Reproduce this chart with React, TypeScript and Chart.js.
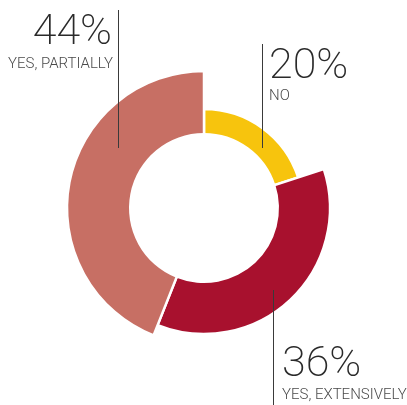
import React, { useEffect, useRef } from "react";
import { Chart, registerables } from "chart.js";

Chart.register(...registerables);

// ---- data ----
const categories = ["NO", "YES, EXTENSIVELY", "YES, PARTIALLY"];
const percentages = [20, 36, 44];

// ---- style ----
const colors = ["#F7C40D", "#A8112E", "#C76F64"];
const outerRadius = [99, 126, 137]; // radial-scale units for each ring segment
const innerRadius = 75;
const scaleMax = 140;

// callout layout: leader line (x, y1, y2), text anchor x, alignment, baselines
const callouts = [
  { lx: 262.5, ly1: 44, ly2: 148, tx: 269, align: "left", numY: 78, labY: 100 },
  { lx: 273.5, ly1: 290, ly2: 405, tx: 282, align: "left", numY: 376, labY: 399 },
  { lx: 118.5, ly1: 10, ly2: 148, tx: 112, align: "right", numY: 44, labY: 68 },
];

const calloutPlugin = {
  id: "callouts",
  afterDraw(chart: any) {
    const ctx = chart.ctx;
    ctx.save();
    callouts.forEach((c, i) => {
      ctx.strokeStyle = "#3a3a3a";
      ctx.lineWidth = 1;
      ctx.beginPath();
      ctx.moveTo(c.lx, c.ly1);
      ctx.lineTo(c.lx, c.ly2);
      ctx.stroke();
      ctx.textAlign = c.align;
      ctx.textBaseline = "alphabetic";
      ctx.fillStyle = "#2a2a2a";
      ctx.font = "200 43px Roboto";
      ctx.fillText(`${percentages[i]}%`, c.tx, c.numY);
      ctx.fillStyle = "#4a4a4a";
      ctx.font = "300 15px Roboto";
      ctx.fillText(categories[i], c.tx + (c.align === "right" ? 1 : 0), c.labY);
    });
    ctx.restore();
  },
};

export default function App() {
  const ref = useRef<HTMLCanvasElement | null>(null);
  useEffect(() => {
    if (!ref.current) return;
    const angleFn = (ctx: any) => percentages[ctx.dataIndex] * 3.6;
    const chart = new Chart(ref.current, {
      type: "polarArea",
      data: {
        labels: categories,
        datasets: [
          {
            label: "hole",
            data: categories.map(() => innerRadius),
            backgroundColor: "#ffffff",
            borderColor: "#ffffff",
            borderWidth: 0,
            angle: angleFn,
          } as any,
          {
            label: "share",
            data: outerRadius,
            backgroundColor: colors,
            borderColor: "#ffffff",
            borderWidth: 2.5,
            angle: angleFn,
          } as any,
        ],
      },
      options: {
        animation: false,
        responsive: true,
        maintainAspectRatio: false,
        layout: { padding: { left: 64, right: 63, top: 68, bottom: 57 } },
        plugins: {
          legend: { display: false },
          tooltip: { enabled: false },
        },
        scales: {
          r: {
            display: false,
            min: 0,
            max: scaleMax,
            startAngle: 0,
          },
        },
      },
      plugins: [calloutPlugin],
    });
    return () => chart.destroy();
  }, []);
  return (
    <div style={{ position: "absolute", left: 0, top: 0, width: 407, height: 405, background: "#fff" }}>
      <canvas ref={ref} />
    </div>
  );
}
